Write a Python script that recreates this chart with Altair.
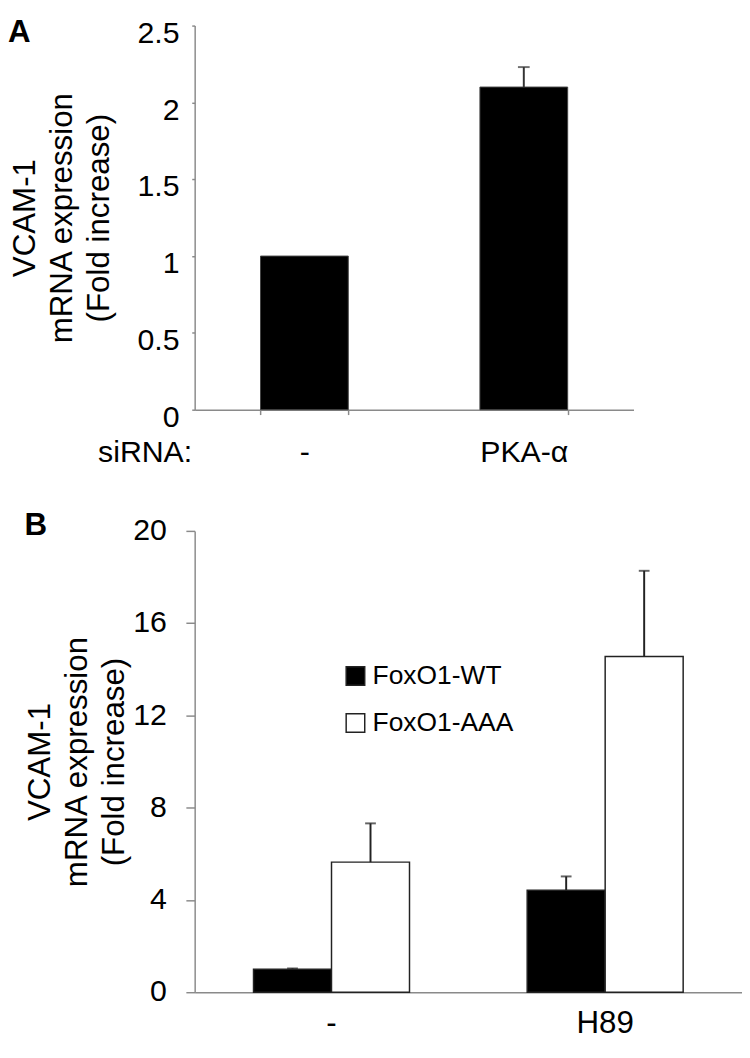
import altair as alt
import pandas as pd

# ---------------- data ----------------
# Panel A
a_sirna = ["-", "PKA-α"]
a_values = [1.0, 2.10]
a_errors = [0.0, 0.13]
a_ticks = [0, 0.5, 1, 1.5, 2, 2.5]

# Panel B
b_treatments = ["-", "H89"]
b_constructs = ["FoxO1-WT", "FoxO1-AAA"]
b_wt_values = [1.0, 4.42]
b_wt_errors = [0.03, 0.60]
b_aaa_values = [5.64, 14.55]
b_aaa_errors = [1.68, 3.72]
b_ticks = [0, 4, 8, 12, 16, 20]

y_title = ["VCAM-1", "mRNA expression", "(Fold increase)"]

# ---------------- style ----------------
FONT = "Liberation Sans"
AXIS_GRAY = "#8a8a8a"
A_W, A_H = 449, 393
B_W, B_H = 560, 472

dfa = pd.DataFrame({"sirna": a_sirna, "value": a_values, "err": a_errors})
dfa["upper"] = dfa["value"] + dfa["err"]

rows = []
for i, t in enumerate(b_treatments):
    rows.append({"treatment": t, "construct": b_constructs[0],
                 "value": b_wt_values[i], "err": b_wt_errors[i]})
    rows.append({"treatment": t, "construct": b_constructs[1],
                 "value": b_aaa_values[i], "err": b_aaa_errors[i]})
dfb = pd.DataFrame(rows)
dfb["upper"] = dfb["value"] + dfb["err"]

# ---------------- panel A ----------------
xa = alt.X(
    "sirna:N", sort=a_sirna,
    scale=alt.Scale(paddingInner=0.6, paddingOuter=0.3),
    axis=alt.Axis(
        title="siRNA:", titleX=-3, titleY=53, titleAlign="right",
        titleBaseline="alphabetic", titleAngle=0, titleFont=FONT,
        titleFontSize=31, titleFontWeight="normal", titleColor="black",
        labelAngle=0, labelFont=FONT, labelFontSize=31, labelColor="black",
        labelBaseline="alphabetic", labelPadding=48,
        tickBand="extent", tickSize=5, tickColor=AXIS_GRAY, tickWidth=1.5,
        domainColor=AXIS_GRAY, domainWidth=1.5,
    ),
)
axis_ya = alt.Axis(
    values=a_ticks, format="~g", grid=False,
    title=y_title, titleX=-189, titleY=A_H / 2, titleAngle=270,
    titleAlign="center", titleBaseline="top", titleFont=FONT,
    titleFontSize=32, titleFontWeight="normal", titleLineHeight=38,
    titleColor="black",
    labelFont=FONT, labelFontSize=31, labelColor="black",
    labelPadding=13, labelOffset=8,
    tickSize=3, tickColor=AXIS_GRAY, tickWidth=1.5,
    domainColor=AXIS_GRAY, domainWidth=1.5,
)
sca = alt.Scale(domain=[0, 2.5], nice=False)

bars_a = alt.Chart(dfa).mark_bar(color="black", stroke="#444", strokeWidth=1).encode(
    x=xa, y=alt.Y("value:Q", scale=sca, axis=axis_ya)
)
err_a = alt.Chart(dfa).transform_filter("datum.err > 0").mark_rule(
    color="#333", strokeWidth=2
).encode(x=xa, y=alt.Y("value:Q", scale=sca, axis=axis_ya), y2="upper:Q")
cap_a = alt.Chart(dfa).transform_filter("datum.err > 0").mark_tick(
    color="#333", thickness=2, size=12, orient="horizontal"
).encode(x=xa, y=alt.Y("upper:Q", scale=sca, axis=axis_ya))
lab_a = alt.Chart(pd.DataFrame({"t": ["A"]})).mark_text(
    font=FONT, fontSize=32, fontWeight="bold", align="left", baseline="top", color="black"
).encode(text="t:N", x=alt.value(-191), y=alt.value(-8))

panel_a = alt.layer(bars_a, err_a, cap_a, lab_a).properties(width=A_W, height=A_H)

# ---------------- panel B ----------------
xb = alt.X(
    "treatment:N", sort=b_treatments,
    scale=alt.Scale(paddingInner=0.43, paddingOuter=0.215),
    axis=alt.Axis(
        title=None, labelAngle=0, labelFont=FONT, labelFontSize=32,
        labelColor="black", labelBaseline="alphabetic", labelPadding=41,
        ticks=False, domainColor=AXIS_GRAY, domainWidth=1.5,
    ),
)
xob = alt.XOffset("construct:N", sort=b_constructs,
                  scale=alt.Scale(paddingInner=0, paddingOuter=0))
axis_yb = alt.Axis(
    values=b_ticks, grid=False,
    title=y_title, titleX=-174, titleY=B_H / 2, titleAngle=270,
    titleAlign="center", titleBaseline="top", titleFont=FONT,
    titleFontSize=32, titleFontWeight="normal", titleLineHeight=38,
    titleColor="black",
    labelFont=FONT, labelFontSize=31, labelColor="black", labelPadding=20,
    tickSize=9, tickColor=AXIS_GRAY, tickWidth=1.5,
    domainColor=AXIS_GRAY, domainWidth=1.5,
)
scb = alt.Scale(domain=[0, 20], nice=False)
fillb = alt.Fill(
    "construct:N", sort=b_constructs,
    scale=alt.Scale(domain=b_constructs, range=["black", "white"]),
    legend=alt.Legend(
        title=None, orient="none", legendX=151, legendY=135, direction="vertical",
        symbolType="square", symbolSize=361, symbolStrokeColor="#222",
        symbolStrokeWidth=1.5, labelFont=FONT, labelFontSize=27,
        labelColor="black", labelOffset=4, rowPadding=20, padding=0,
        labelLimit=300,
    ),
)

bars_b = alt.Chart(dfb).mark_bar(stroke="#222", strokeWidth=1.5).encode(
    x=xb, xOffset=xob, y=alt.Y("value:Q", scale=scb, axis=axis_yb), fill=fillb
)
err_b = alt.Chart(dfb).mark_rule(color="#222", strokeWidth=2).encode(
    x=xb, xOffset=xob, y=alt.Y("value:Q", scale=scb, axis=axis_yb), y2="upper:Q"
)
cap_b = alt.Chart(dfb).mark_tick(
    color="#222", thickness=2, size=11, orient="horizontal"
).encode(x=xb, xOffset=xob, y=alt.Y("upper:Q", scale=scb, axis=axis_yb))
lab_b = alt.Chart(pd.DataFrame({"t": ["B"]})).mark_text(
    font=FONT, fontSize=32, fontWeight="bold", align="left", baseline="top", color="black"
).encode(text="t:N", x=alt.value(-174), y=alt.value(-21))

panel_b = alt.layer(bars_b, err_b, cap_b, lab_b).properties(width=B_W, height=B_H)

chart = alt.ConcatChart(
    concat=[panel_a, panel_b], columns=1, align="none", spacing=43,
    padding={"left": 0, "top": -3, "right": 0, "bottom": -5},
    background="white",
).resolve_scale(fill="independent").resolve_legend(fill="independent").configure_view(strokeWidth=0)

chart.save("out.html", embed_options={"renderer": "svg", "actions": False})
